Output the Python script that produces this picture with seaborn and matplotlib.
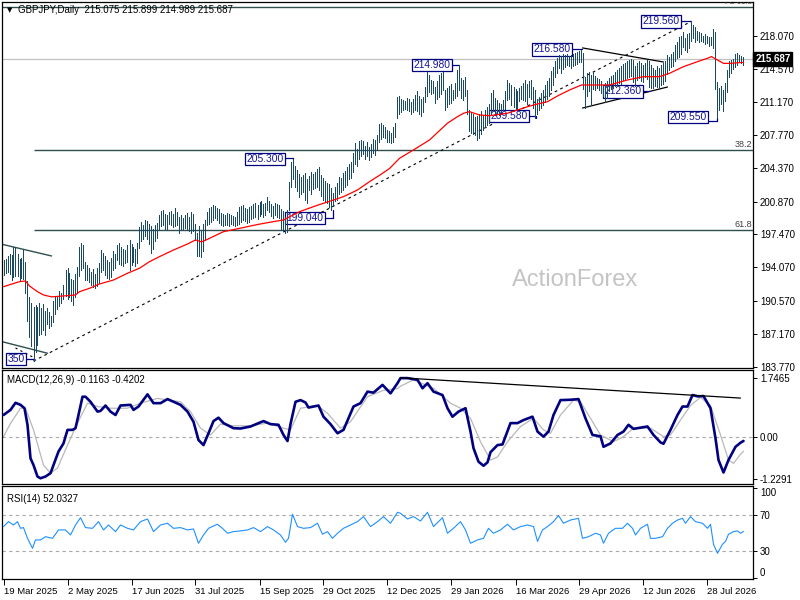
import numpy as np
import pandas as pd
import matplotlib
matplotlib.use("Agg")
import matplotlib.pyplot as plt
import seaborn as sns

# ---------------- data ----------------
highs = [
    194.8, 194.9, 195.2, 195.4, 195.3, 196.2, 196.2, 195.4, 194.9, 195.0,
    196.0, 194.6, 192.6, 191.0, 190.4, 189.9, 190.2, 190.0, 190.4, 189.8,
    190.3, 189.5, 189.8, 189.4, 189.0, 190.6, 191.0, 191.1, 191.6, 191.4,
    192.2, 193.8, 194.0, 193.5, 192.9, 192.8, 193.4, 194.1, 196.2, 196.6,
    196.4, 194.6, 194.3, 194.0, 193.6, 193.9, 193.4, 194.0, 194.5, 195.9,
    195.5, 195.2, 194.8, 194.6, 195.0, 195.8, 195.4, 196.4, 196.6, 196.2,
    196.0, 195.9, 196.4, 196.9, 196.5, 196.2, 196.0, 196.6, 198.2, 198.8,
    198.4, 199.0, 198.9, 198.6, 198.3, 198.0, 198.5, 198.7, 199.5, 199.9,
    200.0, 199.6, 199.5, 199.8, 199.9, 199.6, 200.2, 199.8, 199.3, 199.5,
    199.2, 199.5, 199.7, 199.3, 199.8, 199.6, 198.6, 197.6, 198.3, 197.8,
    198.6, 199.0, 199.8, 200.2, 200.3, 200.5, 200.4, 200.2, 200.1, 199.7,
    199.6, 199.5, 199.7, 199.6, 199.5, 199.4, 199.3, 199.8, 200.3, 200.4,
    200.5, 200.2, 200.1, 200.3, 200.4, 200.6, 200.7, 200.5, 200.8, 200.9,
    200.6, 200.7, 201.4, 200.9, 200.6, 200.4, 200.7, 200.6, 200.5, 200.1,
    199.9, 199.3, 200.0, 202.9, 205.0, 205.3, 204.6, 204.2, 203.7, 203.4,
    203.6, 203.8, 203.2, 203.5, 203.9, 203.7, 203.9, 204.3, 204.5, 203.6,
    203.3, 203.0, 202.8, 202.7, 202.3, 201.8, 202.4, 202.8, 203.4, 203.3,
    203.8, 204.0, 204.5, 204.8, 205.0, 205.9, 206.9, 206.3, 207.2, 207.3,
    207.2, 206.6, 207.0, 206.5, 206.8, 207.4, 207.3, 207.8, 208.9, 209.0,
    208.8, 208.6, 208.3, 208.2, 208.0, 208.6, 209.0, 211.7, 211.8, 211.5,
    211.4, 211.3, 211.6, 211.5, 211.2, 211.5, 211.9, 212.3, 211.8, 211.5,
    211.7, 212.8, 214.3, 214.0, 213.5, 213.4, 212.8, 213.4, 214.0, 214.2,
    214.3, 212.4, 212.6, 212.9, 213.1, 212.4, 213.2, 214.5, 214.98, 213.7,
    213.5, 213.8, 212.4, 210.4, 210.2, 210.0, 209.6, 209.7, 210.0, 210.3,
    209.8, 210.4, 210.7, 211.0, 212.1, 212.4, 211.6, 211.4, 211.1, 211.0,
    211.4, 212.3, 213.5, 213.2, 213.0, 212.8, 212.5, 212.3, 212.6, 212.9,
    213.2, 213.5, 213.1, 213.4, 213.5, 212.7, 212.4, 211.5, 211.7, 212.1,
    212.4, 213.0, 213.4, 213.7, 214.4, 214.8, 215.4, 215.8, 216.1, 216.0,
    216.2, 216.1, 216.2, 216.0, 216.1, 216.2, 216.3, 216.4, 216.5, 216.58,
    216.3, 213.8, 214.2, 214.3, 214.0, 214.3, 213.9, 213.7, 213.6, 213.4,
    213.0, 213.2, 213.4, 213.7, 213.9, 214.0, 214.3, 214.5, 214.7, 214.9,
    215.1, 215.2, 215.4, 215.6, 215.7, 215.5, 214.9, 215.2, 215.4, 215.2,
    215.0, 215.2, 215.5, 215.4, 215.0, 214.7, 214.5, 214.9, 214.7, 215.0,
    215.2, 215.4, 216.1, 215.9, 216.2, 216.4, 217.1, 217.4, 217.9, 218.0,
    218.5, 217.8, 218.2, 218.3, 219.56, 219.2, 219.0, 218.6, 218.4, 218.3,
    218.0, 218.2, 218.0, 217.9, 217.9, 218.8, 218.4, 213.3, 212.6, 212.9,
    212.4, 213.2, 214.5, 215.4, 215.5, 215.7, 216.2, 216.3, 216.1, 216.0,
    215.899,
]
lows = [
    193.3, 193.5, 193.6, 193.4, 192.8, 193.1, 193.2, 193.2, 192.8, 193.0,
    192.9, 191.4, 188.5, 186.8, 185.9, 184.35, 185.3, 186.0, 187.0, 187.2,
    187.6, 187.0, 188.2, 187.8, 188.0, 188.4, 189.2, 189.7, 190.1, 190.4,
    190.8, 191.1, 190.8, 191.0, 190.6, 190.2, 191.0, 191.4, 193.2, 193.8,
    194.0, 192.8, 192.8, 192.5, 192.2, 192.0, 191.9, 192.1, 192.4, 193.6,
    193.8, 193.3, 193.0, 192.9, 193.1, 193.8, 194.0, 194.8, 194.4, 194.3,
    194.2, 194.5, 194.6, 193.8, 194.3, 194.6, 194.2, 194.5, 196.1, 196.8,
    197.0, 197.3, 197.0, 196.5, 195.5, 196.0, 196.8, 197.1, 197.9, 198.3,
    198.4, 198.0, 197.9, 198.6, 198.4, 198.2, 198.3, 198.4, 197.6, 197.9,
    198.0, 198.1, 198.0, 197.8, 197.6, 197.8, 196.9, 195.2, 195.2, 195.1,
    195.8, 196.9, 198.4, 198.6, 198.8, 199.0, 199.2, 199.0, 198.7, 198.4,
    198.3, 198.5, 198.4, 198.3, 198.6, 198.5, 198.3, 198.5, 198.6, 198.8,
    199.0, 198.9, 198.7, 198.8, 199.1, 199.2, 199.3, 199.1, 199.4, 199.6,
    199.3, 199.5, 200.0, 199.8, 199.4, 199.2, 199.5, 199.3, 199.2, 198.0,
    197.8, 197.6, 197.7, 200.0, 202.4, 203.2, 202.4, 202.0, 201.4, 201.7,
    201.9, 201.0, 200.7, 202.1, 201.7, 202.2, 202.3, 202.4, 202.1, 201.5,
    201.0, 200.9, 200.7, 200.3, 200.0, 200.4, 200.9, 201.0, 201.7, 201.9,
    202.1, 202.4, 202.6, 203.2, 203.3, 203.9, 204.8, 204.6, 205.3, 205.6,
    205.8, 205.3, 205.6, 205.2, 205.5, 205.9, 205.7, 206.2, 207.0, 207.4,
    207.6, 207.5, 207.1, 207.0, 206.9, 207.1, 207.6, 209.5, 210.0, 210.2,
    210.4, 210.5, 210.4, 210.3, 210.0, 210.2, 210.4, 210.3, 210.0, 209.7,
    210.2, 211.2, 211.8, 212.2, 212.0, 212.1, 211.1, 211.5, 211.7, 212.0,
    212.4, 210.4, 210.7, 211.0, 211.1, 211.4, 211.6, 211.8, 212.4, 211.6,
    211.4, 211.8, 210.0, 208.2, 208.0, 207.9, 207.8, 207.3, 207.5, 207.9,
    208.3, 208.6, 208.8, 209.0, 210.0, 210.4, 209.8, 210.0, 209.9, 210.0,
    210.4, 210.5, 211.4, 211.5, 210.9, 210.7, 210.4, 210.5, 211.3, 211.5,
    211.4, 211.3, 211.0, 211.7, 211.5, 210.6, 209.58, 210.0, 210.4, 210.6,
    210.9, 211.2, 211.5, 211.8, 212.4, 213.0, 213.8, 214.2, 214.7, 214.2,
    214.6, 214.8, 215.0, 214.9, 214.7, 214.9, 215.0, 215.1, 215.3, 215.3,
    212.5, 210.6, 211.8, 212.3, 210.9, 212.5, 212.4, 212.6, 212.4, 212.1,
    211.8, 211.2, 211.6, 212.3, 212.5, 212.6, 212.9, 213.0, 213.2, 213.1,
    213.5, 213.6, 213.7, 213.8, 213.9, 213.3, 212.9, 213.5, 213.7, 213.4,
    213.3, 213.8, 213.6, 212.8, 212.6, 212.6, 212.9, 212.7, 212.6, 213.0,
    213.1, 213.4, 214.1, 214.5, 214.8, 214.9, 215.4, 215.8, 215.9, 216.2,
    216.9, 216.6, 216.4, 216.8, 217.5, 217.8, 217.4, 217.6, 217.4, 217.5,
    217.4, 217.2, 217.3, 217.0, 217.1, 216.8, 212.5, 209.55, 210.4, 211.0,
    210.3, 211.3, 212.2, 213.8, 214.2, 214.6, 214.8, 215.0, 215.4, 215.2,
    214.989,
]

ma_idx = [0, 8, 11, 13, 17, 20, 24, 32, 36, 38, 43, 48, 55, 62, 68, 73, 78, 85,
          92, 96, 99, 102, 110, 118, 127, 135, 140, 148, 157, 163, 170, 177, 183,
          188, 193, 198, 205, 213, 222, 227, 230, 233, 238, 243, 252, 257, 262,
          267, 272, 277, 283, 289, 295, 303, 312, 320, 328, 333, 340, 347, 352,
          354, 357, 360, 363, 370]
ma_val = [192.06, 192.58, 192.65, 192.13, 191.54, 191.2, 191.0, 191.13, 191.2,
          191.54, 191.89, 192.34, 192.75, 193.45, 193.97, 194.65, 195.17, 195.86,
          196.48, 196.9, 196.7, 196.97, 197.76, 198.1, 198.5, 198.8, 198.97,
          199.83, 200.5, 200.9, 201.39, 202.08, 202.94, 203.6, 204.3, 205.36,
          206.23, 207.26, 209.0, 209.68, 210.03, 210.2, 209.85, 209.78, 210.03,
          210.37, 210.71, 210.99, 211.23, 211.82, 212.44, 212.96, 212.96, 212.96,
          213.48, 213.82, 213.82, 214.17, 214.86, 215.38, 215.73, 215.9, 215.55,
          215.2, 215.2, 215.3]

macd_idx = [0, 3.5, 6, 8.5, 10.5, 12, 13.5, 15, 17, 18.5, 21, 23.5, 25, 27.5, 30,
            32, 34.5, 36, 37.5, 39.5, 41, 43.5, 47, 48.5, 51, 53.5, 56, 58.5, 63.5,
            65, 67.5, 72, 75, 78.5, 82, 85, 88.5, 92, 95, 97.5, 100, 102.5, 105,
            107.5, 110, 115, 118.5, 123.5, 130, 133.5, 137.5, 140, 142, 143.5, 146,
            148.5, 151, 152.5, 157.5, 160, 163.5, 167, 170, 175, 178.5, 182, 185,
            189.5, 193.5, 197, 198.5, 202, 207, 209.5, 212, 215, 219.5, 222, 224.5,
            227.5, 231, 233.5, 235, 237.5, 240, 242, 243.5, 247, 249.5, 253.5, 257,
            260, 264.5, 267, 270, 272.5, 275, 278.5, 283.5, 287.5, 291, 294.5,
            298.5, 300, 303.5, 307, 310, 312.5, 315, 322, 325, 328.5, 330, 333.5,
            337, 339.5, 342, 344.5, 347, 350, 353.5, 356, 357.5, 360, 362.5, 366,
            368.5, 370]
macd_val = [0.65, 0.80, 1.01, 0.95, 0.85, 0.36, -0.63, -0.83, -1.17, -1.22, -1.17,
            -1.07, -0.83, -0.43, -0.19, 0.21, 0.21, 0.26, 0.65, 1.19, 1.19, 1.04,
            0.75, 0.77, 0.93, 0.75, 0.65, 0.93, 0.95, 0.80, 0.90, 1.26, 1.0, 1.0,
            1.12, 1.04, 0.95, 0.75, 0.45, -0.09, -0.24, 0.11, 0.47, 0.57, 0.41,
            0.26, 0.25, 0.31, 0.47, 0.38, 0.36, 0.06, -0.12, 0.38, 1.04, 1.09,
            1.02, 0.87, 0.93, 0.60, 0.38, 0.11, 0.21, 0.90, 1.0, 1.34, 1.31, 1.54,
            1.29, 1.59, 1.74, 1.74, 1.69, 1.44, 1.59, 1.34, 1.24, 0.85, 0.60, 0.75,
            0.85, 0.16, -0.33, -0.73, -0.85, -0.75, -0.45, -0.24, -0.22, 0.41,
            0.41, 0.50, 0.60, 0.16, 0.01, 0.16, 0.65, 1.09, 1.10, 1.12, 0.55,
            0.06, 0.02, -0.29, -0.19, 0.06, 0.16, 0.36, 0.24, 0.31, 0.06, -0.16,
            -0.20, 0.21, 0.65, 0.90, 0.90, 1.24, 1.20, 1.21, 0.85, -0.04, -0.68,
            -1.05, -0.68, -0.29, -0.17, -0.1163]

sig_idx = [0, 3.5, 8.5, 11, 15, 20, 23.5, 27, 32, 37, 42, 47, 53.5, 62, 68.5, 77,
           88.5, 93.5, 98.5, 103.5, 108.5, 115, 123.5, 132, 140, 143.5, 148.5, 157,
           162, 168.5, 173.5, 182, 190, 197, 198.5, 205, 215, 223.5, 228.5, 233.5,
           238.5, 243.5, 247, 252, 258.5, 265, 270, 273.5, 278.5, 285, 288.5,
           293.5, 298.5, 305, 310, 315, 323.5, 330, 333.5, 338.5, 343.5, 348.5,
           353.5, 358.5, 362.5, 365, 368.5, 370]
sig_val = [0.01, 0.40, 0.85, 0.85, 0.21, -0.83, -1.07, -0.92, -0.24, 0.41, 1.0,
           0.90, 0.85, 0.85, 1.0, 1.14, 1.04, 0.75, 0.26, 0.06, 0.38, 0.33, 0.33,
           0.41, 0.26, 0.21, 0.85, 0.93, 0.70, 0.26, 0.45, 1.19, 1.38, 1.43, 1.5,
           1.69, 1.44, 1.0, 0.85, 0.55, -0.14, -0.68, -0.59, -0.14, 0.31, 0.55,
           0.21, 0.11, 0.65, 1.09, 1.04, 0.55, 0.06, -0.14, 0.01, 0.26, 0.26,
           0.01, 0.06, 0.50, 0.93, 1.17, 0.93, 0.06, -0.68, -0.78, -0.51, -0.4202]

rsi_idx = [0, 2.5, 5, 7, 8.5, 10, 12, 14.5, 16, 18.5, 21, 24.5, 27.5, 31, 33.5, 36,
           38.5, 41, 44.5, 47.5, 50, 52.5, 56, 58.5, 62, 65, 68.5, 72, 75, 78.5,
           82, 85, 88.5, 92, 95, 97.5, 100, 102.5, 107, 109.5, 112, 115, 118.5,
           122, 125, 128.5, 132, 135, 138.5, 141, 142.5, 144.5, 147, 150, 153.5,
           157, 159.5, 162, 164.5, 167, 170, 173.5, 177, 180, 183.5, 187, 190,
           193.5, 197, 198.5, 202, 205, 208.5, 212, 215, 219.5, 222, 225, 228.5,
           231, 233.5, 237, 240, 242.5, 245, 248.5, 252, 255, 258.5, 262, 265, 267,
           269.5, 272, 275, 277.5, 280, 283.5, 287.5, 289.5, 292.5, 296, 298.5,
           300, 302.5, 306, 309.5, 312, 314.5, 316, 318.5, 322, 323.5, 326, 329.5,
           332, 334.5, 337, 339.5, 341, 343.5, 346, 349.5, 352, 353.5, 355, 357,
           359.5, 361, 362.5, 365, 367, 368.5, 370]
rsi_val = [57.4, 62.9, 59.2, 62.9, 55.5, 56.3, 44.4, 33.3, 42.6, 42.6, 46.2, 44.4,
           53.7, 53.7, 48.1, 59.2, 67.3, 56.3, 55.5, 62.9, 53.7, 59.2, 51.8, 59.2,
           55.5, 53.7, 62.9, 65.9, 51.8, 59.2, 61.1, 55.5, 56.3, 53.7, 54.8, 38.9,
           48.1, 55.5, 60.0, 55.5, 50.0, 51.8, 52.6, 53.7, 56.3, 51.8, 57.4, 53.7,
           48.1, 40.0, 44.4, 71.1, 57.4, 55.5, 56.3, 61.1, 48.9, 51.8, 44.4, 50.0,
           55.5, 59.2, 62.9, 68.5, 57.4, 62.9, 68.5, 61.1, 73.3, 72.2, 65.9, 68.5,
           63.6, 73.3, 57.4, 67.3, 50.0, 55.5, 62.9, 53.7, 38.9, 42.6, 44.4, 55.5,
           50.0, 53.7, 60.0, 53.7, 57.4, 59.2, 57.4, 41.0, 53.7, 57.4, 62.9, 69.6,
           61.1, 64.7, 66.6, 44.4, 46.2, 50.0, 48.1, 38.9, 50.0, 55.5, 55.5, 61.1,
           55.5, 48.1, 55.5, 60.0, 44.4, 44.4, 46.2, 55.5, 61.1, 64.7, 66.6, 61.1,
           68.5, 62.9, 61.1, 55.5, 60.0, 37.8, 27.8, 37.8, 40.9, 48.9, 51.8, 52.6,
           50.0, 52.03]

date_idx = [0, 32, 64, 96, 128, 160, 192, 224, 256, 288, 320, 352]
date_labels = ["19 Mar 2025", "2 May 2025", "17 Jun 2025", "31 Jul 2025",
               "15 Sep 2025", "29 Oct 2025", "12 Dec 2025", "29 Jan 2026",
               "16 Mar 2026", "29 Apr 2026", "12 Jun 2026", "28 Jul 2026"]
price_ticks = [218.07, 214.57, 211.17, 207.77, 204.37, 200.87, 197.47, 194.07,
               190.57, 187.17, 183.77]
price_tick_labels = ["218.070", "214.570", "211.170", "207.770", "204.370",
                     "200.870", "197.470", "194.070", "190.570", "187.170",
                     "183.770"]
macd_ticks = [1.7465, 0.0, -1.2291]
macd_tick_labels = ["1.7465", "0.00", "-1.2291"]
rsi_ticks = [100, 70, 30, 0]

# annotation labels: text, right edge (bar index), level, connector path
notes = [
    ("350", 10.5, 184.57, [(10.5, 184.57), (15, 184.57), (15, 184.35)]),
    ("205.300", 140, 205.3, [(140, 205.35), (145, 205.35), (145, 205.3)]),
    ("199.040", 160, 199.16, [(160, 199.16), (165, 199.16), (165, 200.0)]),
    ("214.980", 223.5, 215.03, [(223.5, 215.03), (228, 215.03), (228, 214.98)]),
    ("209.580", 262, 209.75, [(262, 209.75), (266.5, 209.75), (266.5, 209.58)]),
    ("216.580", 283.5, 216.64, [(283.5, 216.7), (289.5, 216.7)]),
    ("212.360", 319, 212.3, [(319, 212.3), (323, 212.3)]),
    ("219.560", 338, 219.54, [(338, 219.6), (344, 219.6)]),
    ("209.550", 351.5, 209.65, [(351.5, 209.2), (357, 209.2), (357, 209.55)]),
]

# ---------------- styling ----------------
sns.set_theme(style="white", rc={
    "axes.edgecolor": "black", "axes.linewidth": 0.9,
    "xtick.color": "black", "ytick.color": "black", "text.color": "black",
})
plt.rcParams["font.family"] = ["Liberation Sans", "DejaVu Sans"]

BAR = "#1a4a62"
FIB = "#2f4f4f"
NAVY = "#000080"

W, H = 800, 600
fig = plt.figure(figsize=(8, 6), dpi=100)
fig.patch.set_facecolor("white")


def rect(l, t, r, b):
    return [l / W, 1 - b / H, (r - l) / W, (b - t) / H]


ax = fig.add_axes(rect(2, 2, 753, 368))
ax2 = fig.add_axes(rect(2, 370, 753, 484))
ax3 = fig.add_axes(rect(2, 486, 753, 579))

for a in (ax, ax2, ax3):
    a.set_xlim(-0.75, 374.75)
    a.set_facecolor("white")
    for s in a.spines.values():
        s.set_color("black")
        s.set_linewidth(0.9)
    a.yaxis.tick_right()
    a.tick_params(axis="y", direction="out", length=3, width=0.7, pad=2,
                  labelsize=7, right=True, left=False)

# ---------------- price panel ----------------
ax.set_ylim(183.63, 221.56)
xs = np.arange(len(highs))
ax.axhline(215.687, color="#c0c0c0", lw=0.9, zorder=1)
ax.hlines([206.23, 197.94], 15, 375, color=FIB, lw=1.0, zorder=1)
ax.hlines(221.07, -0.75, 375, color=FIB, lw=1.0, zorder=1)
ax.text(374.3, 206.33, "38.2", ha="right", va="bottom", fontsize=6.5, color="#404040")
ax.text(374.3, 198.04, "61.8", ha="right", va="bottom", fontsize=6.5, color="#404040")
ax.text(374.3, 221.1, "FE 61.8", ha="right", va="bottom", fontsize=5.5,
        color="#404040", clip_on=True)

ax.text(0.763, 0.24, "ActionForex", transform=ax.transAxes, ha="center",
        va="center", fontsize=17, color="#c4c4c4", zorder=0)

# trend lines
ax.plot([15, 344], [184.35, 219.56], color="black", lw=0.8, ls=(0, (2.5, 3)), zorder=2)
ax.plot([-0.75, 24], [196.45, 195.24], color=FIB, lw=1.0, zorder=2)
ax.plot([-0.75, 22], [186.36, 185.16], color=FIB, lw=1.0, zorder=2)
ax.plot([6, 14.5], [185.71, 184.78], color="black", lw=0.8, ls=(0, (2, 3)), zorder=2)
ax.plot([289.5, 330], [216.8, 215.34], color="black", lw=0.9, zorder=2)
ax.plot([289.5, 332], [210.57, 212.75], color="black", lw=0.9, zorder=2)

# labels (under the bars)
for txt, xr, yv, path in notes:
    ax.text(xr, yv, txt, ha="right", va="center", fontsize=7.4, color="#141496",
            bbox=dict(boxstyle="square,pad=0.12", fc="white", ec=NAVY, lw=0.9),
            zorder=2.5, clip_on=True)
    px, py = zip(*path)
    ax.plot(px, py, color=NAVY, lw=0.9, zorder=2.4)

# OHLC bars (high-low), crisp 1px lines
ax.vlines(xs, lows, highs, color=BAR, lw=0.6, zorder=3, antialiased=False)

# moving average
sns.lineplot(x=ma_idx, y=ma_val, ax=ax, color="#ff0000", linewidth=0.9,
             estimator=None, sort=False, legend=False, zorder=4)

ax.set_yticks(price_ticks)
ax.set_yticklabels(price_tick_labels)
ax.set_xticks([])
ax.set_xlabel("")
ax.set_ylabel("")
ax.text(1.003, 215.687, "215.687", transform=ax.get_yaxis_transform(),
        ha="left", va="center", fontsize=7, color="white", fontweight="bold",
        bbox=dict(boxstyle="square,pad=0.2", fc="black", ec="black"),
        clip_on=False, zorder=10)

fig.text(7 / W, 1 - 10 / H, "\u25BC", fontsize=5, va="center", ha="left",
         family="DejaVu Sans")
fig.text(18 / W, 1 - 10 / H, "GBPJPY,Daily  215.075 215.899 214.989 215.687",
         fontsize=7, va="center", ha="left")

# ---------------- MACD panel ----------------
ax2.set_ylim(-1.39, 1.98)
ax2.axhline(0, color="#a8a8a8", lw=0.8, ls=(0, (3, 3)), zorder=1)
sns.lineplot(x=sig_idx, y=sig_val, ax=ax2, color="#b8b8b8", linewidth=0.9,
             estimator=None, sort=False, legend=False, zorder=2)
sns.lineplot(x=macd_idx, y=macd_val, ax=ax2, color=NAVY, linewidth=1.9,
             estimator=None, sort=False, legend=False, zorder=3)
ax2.plot([198.5, 368.5], [1.75, 1.15], color="black", lw=0.9, zorder=4)
ax2.set_yticks(macd_ticks)
ax2.set_yticklabels(macd_tick_labels)
ax2.set_xticks([])
ax2.set_xlabel("")
ax2.set_ylabel("")
ax2.text(0.006, 0.915, "MACD(12,26,9) -0.1163 -0.4202", transform=ax2.transAxes,
         fontsize=7, va="center", ha="left")

# ---------------- RSI panel ----------------
ax3.set_ylim(-0.8, 102.5)
ax3.axhline(70, color="#a8a8a8", lw=0.8, ls=(0, (3, 3)), zorder=1)
ax3.axhline(30, color="#a8a8a8", lw=0.8, ls=(0, (3, 3)), zorder=1)
sns.lineplot(x=rsi_idx, y=rsi_val, ax=ax3, color="#1e90ff", linewidth=0.8,
             estimator=None, sort=False, legend=False, zorder=3)
ax3.set_yticks(rsi_ticks)
ax3.set_yticklabels([str(t) for t in rsi_ticks])
labs = ax3.get_yticklabels()
labs[0].set_va("top")
labs[-1].set_va("bottom")
ax3.set_xticks(date_idx)
ax3.set_xticklabels(date_labels, fontsize=6.8, ha="left")
ax3.tick_params(axis="x", direction="out", length=4, width=0.7, pad=2,
                bottom=True)
ax3.set_xlabel("")
ax3.set_ylabel("")
ax3.text(0.006, 0.86, "RSI(14) 52.0327", transform=ax3.transAxes,
         fontsize=7, va="center", ha="left")

fig.savefig("out.png", dpi=100, facecolor="white")
